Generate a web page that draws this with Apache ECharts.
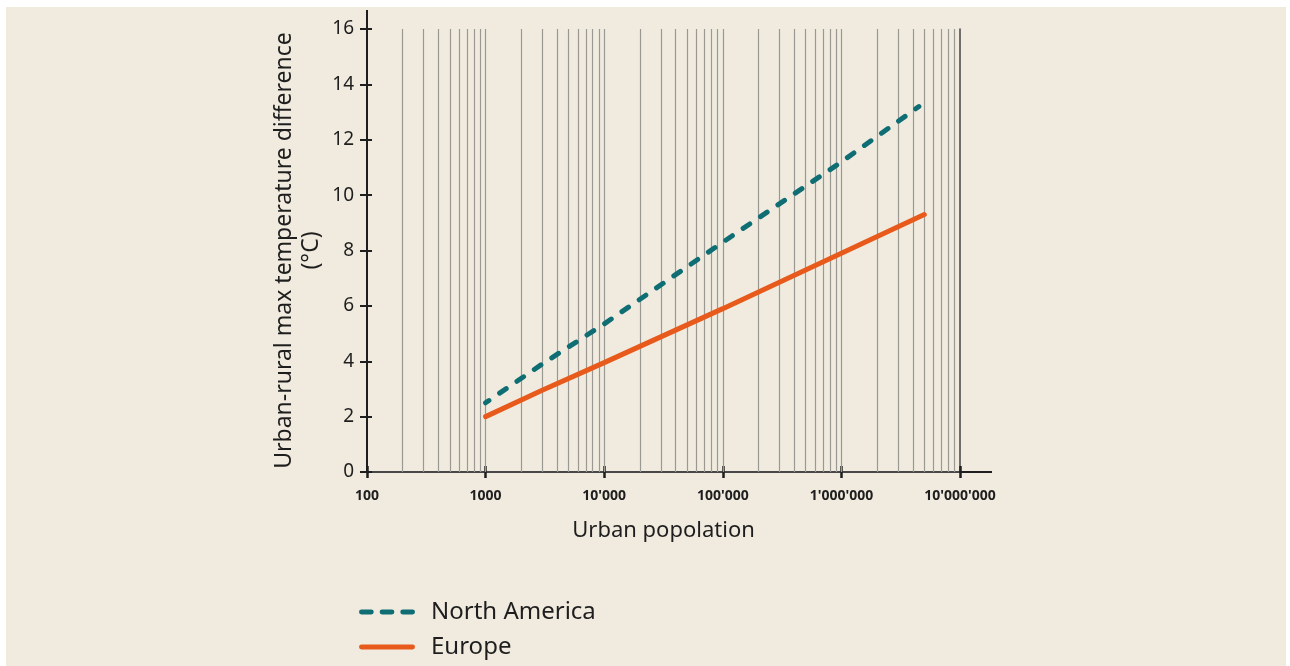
<!DOCTYPE html>
<html><head><meta charset="utf-8">
<script src="https://cdn.jsdelivr.net/npm/echarts@6/dist/echarts.min.js"></script>
<style>
html,body{margin:0;padding:0;background:#fff;width:1290px;height:666px;overflow:hidden;}
#bg{position:absolute;left:6px;top:7px;right:4px;bottom:0;background:#f1ebdf;}
#c{position:absolute;left:0;top:0;width:1290px;height:666px;}
</style>
</head><body><div id="bg"></div><div id="c"></div>
<script>
const seriesNames = ['North America', 'Europe'];
const naPop  = [1000, 3000, 10000, 100000, 1000000, 4500000];
const naDiff = [2.5, 3.9, 5.35, 8.3, 11.2, 13.2];
const euPop  = [1000, 3000, 10000, 100000, 1000000, 5000000];
const euDiff = [2.0, 2.95, 3.95, 5.9, 7.9, 9.3];
const xTickValues = [100, 1000, 10000, 100000, 1000000, 10000000];
const xTickLabels = ['100', '1000', "10'000", "100'000", "1'000'000", "10'000'000"];
const yTickLabels = ['0', '2', '4', '6', '8', '10', '12', '14', '16'];
const gridLinePops = [200, 300, 400, 500, 600, 700, 800, 900,
  1000, 2000, 3000, 4000, 5000, 6000, 7000, 8000, 9000,
  10000, 20000, 30000, 40000, 50000, 60000, 70000, 80000, 90000,
  100000, 200000, 300000, 400000, 500000, 600000, 700000, 800000, 900000,
  1000000, 2000000, 3000000, 4000000, 5000000, 6000000, 7000000, 8000000, 9000000];
const xAxisTitle = 'Urban popolation';
const yAxisTitle = 'Urban-rural max temperature difference\n(°C)';

const FONT = 'Noto Sans';
const INK = '#1e1e1e';
const TEAL = '#0f6d74';
const ORANGE = '#e85a1c';

const DASH_ICON = 'path://M2,0h10a2,2 0 0 1 0,5h-10a2,2 0 0 1 0,-5z M23,0h10a2,2 0 0 1 0,5h-10a2,2 0 0 1 0,-5z M44,0h10a2,2 0 0 1 0,5h-10a2,2 0 0 1 0,-5z';
const SOLID_ICON = 'path://M2,0h52a2,2 0 0 1 0,5h-52a2,2 0 0 1 0,-5z';

const chart = echarts.init(document.getElementById('c'), null, {renderer: 'canvas'});

function xLabel(v) {
  const i = xTickValues.findIndex(t => Math.abs(t - v) / t < 1e-6);
  return i >= 0 ? xTickLabels[i] : '';
}

const option = {
  animation: false,
  backgroundColor: 'transparent',
  grid: {left: 367, top: 29, width: 593, height: 443, containLabel: false},
  legend: {
    orient: 'vertical', left: 354, top: 594, height: 80,
    itemWidth: 56, itemHeight: 5, itemGap: 9,
    textStyle: {fontFamily: FONT, fontSize: 24, color: INK, lineHeight: 26, padding: [0, 0, 0, 11]},
    data: [{name: seriesNames[0], icon: DASH_ICON}, {name: seriesNames[1], icon: SOLID_ICON}]
  },
  xAxis: [{
    type: 'log', logBase: 10, min: 100, max: 10000000,
    name: xAxisTitle, nameLocation: 'middle', nameGap: 48,
    nameTextStyle: {fontFamily: FONT, fontSize: 22, color: INK},
    axisLine: {show: true, lineStyle: {color: INK, width: 2}},
    axisTick: {show: true, inside: false, length: 6, lineStyle: {color: INK, width: 2.5}},
    axisLabel: {fontFamily: FONT, fontSize: 14, fontWeight: 'bold', color: INK, margin: 17, formatter: xLabel},
    splitLine: {show: false}, minorTick: {show: false}, minorSplitLine: {show: false}
  }, {
    type: 'log', logBase: 10, min: 100, max: 10000000, position: 'top',
    axisLine: {show: true, lineStyle: {color: '#555', width: 1.5}},
    axisTick: {show: false}, axisLabel: {show: false}, splitLine: {show: false}
  }, {
    type: 'log', logBase: 10, min: 100, max: 10000000, position: 'bottom',
    axisLine: {show: false},
    axisTick: {show: true, inside: true, length: 6, lineStyle: {color: INK, width: 2.5}},
    axisLabel: {show: false}, splitLine: {show: false}
  }],
  yAxis: [{
    type: 'value', min: 0, max: 16, interval: 2,
    name: yAxisTitle, nameLocation: 'middle', nameGap: 42,
    nameTextStyle: {fontFamily: FONT, fontSize: 23, color: INK, lineHeight: 27, align: 'center'},
    axisLine: {show: true, lineStyle: {color: INK, width: 2}},
    axisTick: {show: true, inside: false, length: 7, lineStyle: {color: INK, width: 2}},
    axisLabel: {fontFamily: FONT, fontSize: 19, color: INK, margin: 13,
      formatter: (v) => yTickLabels[Math.round(v / 2)] ?? ''},
    splitLine: {show: false}
  }, {
    type: 'value', min: 0, max: 16, interval: 2, position: 'right',
    axisLine: {show: true, lineStyle: {color: '#444', width: 1.5}},
    axisTick: {show: false}, axisLabel: {show: false}, splitLine: {show: false}
  }, {
    type: 'value', min: 0, max: 16, interval: 2, position: 'left', offset: 0,
    axisLine: {show: false},
    axisTick: {show: true, inside: true, length: 5, lineStyle: {color: INK, width: 2}},
    axisLabel: {show: false}, splitLine: {show: false}
  }],
  series: [{
    name: seriesNames[0], type: 'line', z: 3, symbol: 'none', smooth: false,
    data: naPop.map((p, i) => [p, naDiff[i]]),
    lineStyle: {color: TEAL, width: 5, type: [8, 13], dashOffset: 4, cap: 'round'},
    itemStyle: {color: TEAL},
    markLine: {
      silent: true, symbol: 'none', z: 1, label: {show: false},
      lineStyle: {color: '#9a9893', width: 1.2, type: 'solid'},
      data: gridLinePops.map(p => ({xAxis: p}))
    }
  }, {
    name: seriesNames[1], type: 'line', z: 3, symbol: 'none', smooth: false,
    data: euPop.map((p, i) => [p, euDiff[i]]),
    lineStyle: {color: ORANGE, width: 5, type: 'solid', cap: 'round'},
    itemStyle: {color: ORANGE}
  }]
};
chart.setOption(option);

const pEnd = chart.convertToPixel({gridIndex: 0}, [10000000, 0]);
const pTop = chart.convertToPixel({gridIndex: 0}, [100, 16]);
chart.setOption({
  graphic: [
    {type: 'line', shape: {x1: pEnd[0], y1: pEnd[1], x2: pEnd[0] + 32, y2: pEnd[1]},
     style: {stroke: INK, lineWidth: 2}, z: 10},
    {type: 'line', shape: {x1: pTop[0], y1: pTop[1], x2: pTop[0], y2: pTop[1] - 19},
     style: {stroke: INK, lineWidth: 2}, z: 10}
  ]
});
</script>
</body></html>
